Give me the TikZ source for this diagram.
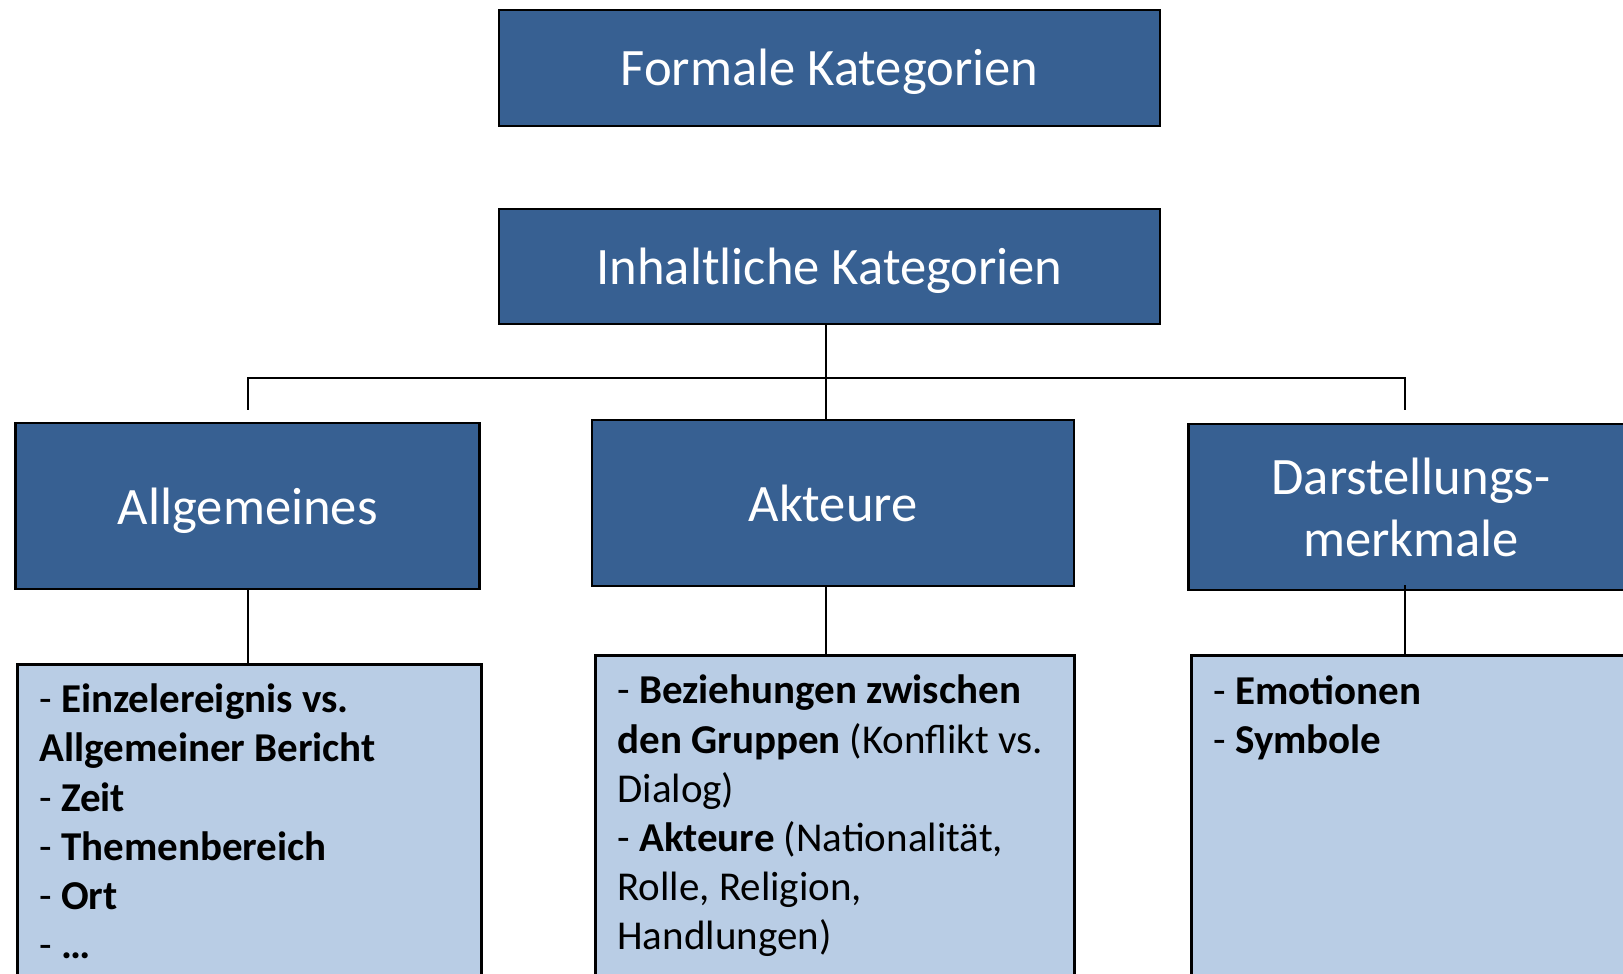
\documentclass[tikz,border=0pt]{standalone}
\usepackage{fontspec}
\setmainfont{Carlito}
\usetikzlibrary{positioning, calc}
\definecolor{kopfblau}{HTML}{376092}
\definecolor{listenblau}{HTML}{B9CDE5}
\tikzset{
  kopf/.style={rectangle, draw=black, line width=1.4pt, fill=kopfblau, text=white, font=\fontsize{26.3}{31}\selectfont, align=center},
  einzeilig/.style={text height=18.5pt, text depth=0.5pt},
  liste/.style={rectangle, draw=black, line width=1.4pt, fill=listenblau, anchor=north west, minimum height=180pt},
  eintrag/.style={anchor=north west, inner sep=0pt, align=left, font=\fontsize{20.5}{24.6}\selectfont},
  linie/.style={line width=1.1pt}
}

\begin{document}
\begin{tikzpicture}[x=0.5pt, y=-0.5pt]
    \useasboundingbox (0,0) rectangle (1623,974);
    \clip (0,0) rectangle (1623,974);

    % 1. Obere Kategorien
    \node[kopf, einzeilig, minimum width=330.5pt, minimum height=58pt] (formal) at (829.5,68) {Formale Kategorien};
    \node[kopf, einzeilig, minimum width=330.5pt, minimum height=57.5pt] (inhalt) at (829.5,266.5) {Inhaltliche Kategorien};

    % 2. Unterkategorien
    \node[kopf, einzeilig, minimum width=232pt, minimum height=83pt] (allg) at (247.8,506) {Allgemeines};
    \node[kopf, einzeilig, minimum width=241pt, minimum height=83pt] (akteure) at (833,503) {Akteure};
    \node[kopf, minimum width=222.5pt, minimum height=83pt] (darst) at (1411,507) {Darstellungs-\\merkmale};

    % 3. Listen
    \node[liste, minimum width=232pt] (allgliste) at (16,662.7) {};
    \node[liste, minimum width=239.5pt] (aktliste) at (594,654) {};
    \node[liste, minimum width=225pt] (darstliste) at (1190,654) {};

    \node[eintrag] (allgtext) at ([xshift=11.5pt, yshift=-10.4pt]allgliste.north west)
        {- \textbf{Einzelereignis vs.}\\
         \textbf{Allgemeiner Bericht}\\
         - \textbf{Zeit}\\
         - \textbf{Themenbereich}\\
         - \textbf{Ort}\\
         - \textbf{\ldots}};
    \node[eintrag] (akttext) at ([xshift=11.5pt, yshift=-10.4pt]aktliste.north west)
        {- \textbf{Beziehungen zwischen}\\
         \textbf{den Gruppen} (Konflikt vs.\\
         Dialog)\\
         - \textbf{Akteure} (Nationalität,\\
         Rolle, Religion,\\
         Handlungen)};
    \node[eintrag] (darsttext) at ([xshift=11.5pt, yshift=-10.4pt]darstliste.north west)
        {- \textbf{Emotionen}\\
         - \textbf{Symbole}};

    % 4. Verbindungen
    \draw[linie] ([xshift=-1.75pt]inhalt.south) -- ([xshift=-1.75pt]inhalt.south |- akteure.north);
    \draw[linie] ([yshift=6pt]allg.north) -- ++(0,-32) -| ([xshift=-3pt, yshift=6.5pt]darst.north);
    \draw[linie] (allg.south) -- (allg.south |- allgliste.north);
    \draw[linie] ([xshift=-3.5pt]akteure.south) -- ([xshift=-3.5pt]akteure.south |- aktliste.north);
    \draw[linie] ([xshift=-3pt, yshift=3pt]darst.south) -- ([xshift=-3pt]darst.south |- darstliste.north);

\end{tikzpicture}
\end{document}
